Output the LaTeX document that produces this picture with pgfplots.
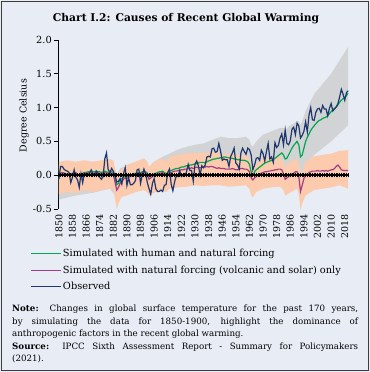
\documentclass[border=0pt]{standalone}
\usepackage{pgfplots}
\pgfplotsset{compat=1.18}
\usepackage{fontspec}
\setmainfont{DejaVu Serif}
\definecolor{bgc}{RGB}{232,237,245}
\definecolor{framec}{RGB}{60,60,60}
\definecolor{simgreen}{RGB}{0,166,81}
\definecolor{natmag}{RGB}{163,62,132}
\definecolor{obsnavy}{RGB}{30,55,110}
\definecolor{bandgray}{RGB}{210,211,213}
\definecolor{bandpeach}{RGB}{252,202,172}

\pgfplotstableread{
year obs
1850 -0.06
1851 0.13
1852 0.13
1853 0.09
1854 0.07
1855 0.06
1856 0.04
1857 -0.11
1858 -0.03
1859 0.08
1860 -0.03
1861 -0.07
1862 -0.18
1863 0.02
1864 -0.11
1865 0.03
1866 0.02
1867 0.00
1868 0.03
1869 0.08
1870 0.03
1871 -0.01
1872 0.06
1873 0.03
1874 -0.03
1875 -0.06
1876 -0.02
1877 0.24
1878 0.33
1879 0.08
1880 0.04
1881 0.10
1882 0.06
1883 0.00
1884 -0.10
1885 -0.09
1886 -0.05
1887 -0.13
1888 0.02
1889 0.11
1890 -0.15
1891 -0.04
1892 -0.14
1893 -0.14
1894 -0.12
1895 -0.08
1896 0.08
1897 0.09
1898 -0.12
1899 0.00
1900 0.09
1901 0.02
1902 -0.11
1903 -0.20
1904 -0.28
1905 -0.12
1906 -0.05
1907 -0.20
1908 -0.24
1909 -0.24
1910 -0.22
1911 -0.24
1912 -0.15
1913 -0.14
1914 0.04
1915 0.09
1916 -0.13
1917 -0.23
1918 -0.10
1919 -0.01
1920 -0.02
1921 0.07
1922 -0.02
1923 0.00
1924 -0.01
1925 0.05
1926 0.16
1927 0.07
1928 0.07
1929 -0.09
1930 0.16
1931 0.21
1932 0.14
1933 0.00
1934 0.14
1935 0.11
1936 0.15
1937 0.27
1938 0.28
1939 0.27
1940 0.39
1941 0.40
1942 0.34
1943 0.35
1944 0.47
1945 0.36
1946 0.22
1947 0.24
1948 0.23
1949 0.23
1950 0.13
1951 0.28
1952 0.33
1953 0.40
1954 0.18
1955 0.15
1956 0.09
1957 0.33
1958 0.40
1959 0.35
1960 0.31
1961 0.40
1962 0.38
1963 0.30
1964 0.08
1965 0.15
1966 0.25
1967 0.26
1968 0.22
1969 0.37
1970 0.32
1971 0.21
1972 0.35
1973 0.47
1974 0.24
1975 0.27
1976 0.19
1977 0.48
1978 0.41
1979 0.44
1980 0.55
1981 0.61
1982 0.45
1983 0.67
1984 0.47
1985 0.45
1986 0.51
1987 0.68
1988 0.71
1989 0.60
1990 0.77
1991 0.73
1992 0.55
1993 0.59
1994 0.65
1995 0.79
1996 0.64
1997 0.89
1998 1.00
1999 0.82
2000 0.81
2001 0.93
2002 0.98
2003 0.99
2004 0.93
2005 1.03
2006 0.98
2007 0.98
2008 0.88
2009 0.99
2010 1.06
2011 0.95
2012 0.98
2013 1.01
2014 1.06
2015 1.16
2016 1.27
2017 1.20
2018 1.11
2019 1.22
2020 1.25
}\obsdata

\pgfplotstableread{
year hum nat
1850 -0.03 0.02
1851 0.00 0.03
1852 0.02 0.04
1853 0.03 0.03
1854 0.02 0.02
1855 0.01 0.01
1856 0.00 0.02
1857 0.02 0.00
1858 0.03 0.01
1859 0.04 0.03
1860 0.03 0.04
1861 0.01 0.01
1862 0.00 -0.01
1863 0.02 0.01
1864 0.03 0.02
1865 0.04 0.03
1866 0.04 0.02
1867 0.05 0.03
1868 0.05 0.04
1869 0.04 0.03
1870 0.05 0.02
1871 0.05 0.03
1872 0.06 0.04
1873 0.05 0.03
1874 0.05 0.03
1875 0.04 0.02
1876 0.05 0.03
1877 0.06 0.04
1878 0.05 0.03
1879 0.04 0.02
1880 0.04 0.02
1881 0.05 0.03
1882 0.04 0.02
1883 -0.06 -0.10
1884 -0.14 -0.22
1885 -0.12 -0.18
1886 -0.07 -0.12
1887 -0.05 -0.09
1888 -0.03 -0.06
1889 -0.01 -0.04
1890 -0.02 -0.05
1891 -0.01 -0.03
1892 0.00 -0.02
1893 0.01 -0.01
1894 0.02 0.00
1895 0.03 0.01
1896 0.03 0.02
1897 0.04 0.02
1898 0.04 0.03
1899 0.05 0.03
1900 0.05 0.04
1901 0.05 0.03
1902 0.03 0.00
1903 -0.02 -0.06
1904 -0.01 -0.04
1905 0.00 -0.02
1906 0.02 0.00
1907 0.03 0.01
1908 0.04 0.02
1909 0.05 0.03
1910 0.05 0.03
1911 0.06 0.04
1912 0.04 0.02
1913 0.02 -0.01
1914 0.04 0.01
1915 0.06 0.03
1916 0.07 0.04
1917 0.08 0.05
1918 0.09 0.06
1919 0.10 0.06
1920 0.10 0.07
1921 0.11 0.07
1922 0.12 0.08
1923 0.12 0.08
1924 0.13 0.09
1925 0.14 0.09
1926 0.14 0.10
1927 0.15 0.10
1928 0.15 0.11
1929 0.16 0.10
1930 0.17 0.11
1931 0.17 0.12
1932 0.18 0.11
1933 0.19 0.11
1934 0.19 0.12
1935 0.19 0.12
1936 0.18 0.12
1937 0.20 0.13
1938 0.21 0.12
1939 0.22 0.13
1940 0.23 0.13
1941 0.24 0.12
1942 0.24 0.11
1943 0.25 0.10
1944 0.25 0.11
1945 0.26 0.10
1946 0.26 0.10
1947 0.27 0.10
1948 0.27 0.09
1949 0.26 0.09
1950 0.26 0.09
1951 0.25 0.09
1952 0.25 0.10
1953 0.24 0.09
1954 0.24 0.08
1955 0.23 0.08
1956 0.23 0.09
1957 0.22 0.10
1958 0.22 0.10
1959 0.22 0.09
1960 0.21 0.09
1961 0.20 0.08
1962 0.16 0.05
1963 0.05 -0.04
1964 0.00 -0.07
1965 0.05 -0.04
1966 0.08 -0.02
1967 0.10 0.00
1968 0.12 0.02
1969 0.14 0.03
1970 0.16 0.04
1971 0.18 0.05
1972 0.19 0.05
1973 0.20 0.06
1974 0.21 0.06
1975 0.22 0.07
1976 0.23 0.07
1977 0.25 0.08
1978 0.27 0.08
1979 0.29 0.09
1980 0.31 0.09
1981 0.33 0.08
1982 0.30 0.02
1983 0.24 -0.06
1984 0.25 -0.04
1985 0.30 -0.02
1986 0.35 0.00
1987 0.40 0.02
1988 0.44 0.03
1989 0.47 0.05
1990 0.50 0.05
1991 0.45 -0.02
1992 0.27 -0.24
1993 0.30 -0.15
1994 0.40 -0.05
1995 0.50 0.00
1996 0.56 0.02
1997 0.61 0.04
1998 0.66 0.05
1999 0.70 0.06
2000 0.73 0.06
2001 0.76 0.06
2002 0.79 0.07
2003 0.81 0.06
2004 0.82 0.06
2005 0.84 0.07
2006 0.85 0.06
2007 0.86 0.07
2008 0.88 0.06
2009 0.91 0.07
2010 0.94 0.08
2011 0.97 0.08
2012 0.99 0.10
2013 1.01 0.13
2014 1.04 0.15
2015 1.08 0.12
2016 1.11 0.08
2017 1.13 0.07
2018 1.15 0.07
2019 1.18 0.07
2020 1.21 0.07
}\simdata

% gray band polygon: upper edge forward, lower edge backward
\pgfplotstableread{
x y
1850 0.15
1860 0.17
1870 0.18
1880 0.20
1883 0.10
1884 0.00
1886 0.10
1890 0.15
1900 0.22
1903 0.12
1906 0.20
1910 0.26
1920 0.38
1925 0.42
1930 0.45
1935 0.47
1940 0.52
1945 0.57
1950 0.55
1955 0.55
1960 0.57
1962 0.52
1963 0.45
1964 0.42
1966 0.50
1970 0.60
1975 0.65
1980 0.70
1982 0.70
1983 0.66
1985 0.72
1990 0.80
1991 0.80
1992 0.75
1993 0.80
1995 0.95
2000 1.20
2005 1.35
2010 1.50
2015 1.70
2020 1.90
2020 0.74
2015 0.62
2010 0.50
2005 0.40
2000 0.30
1995 0.15
1993 0.05
1992 -0.05
1991 0.15
1990 0.22
1985 0.10
1983 0.03
1982 0.10
1980 0.12
1975 0.07
1970 0.00
1966 -0.12
1964 -0.22
1963 -0.20
1962 -0.05
1960 0.00
1955 0.00
1950 0.02
1945 0.02
1940 0.00
1935 -0.03
1930 -0.05
1925 -0.07
1920 -0.10
1910 -0.18
1906 -0.22
1903 -0.28
1900 -0.20
1890 -0.22
1886 -0.30
1884 -0.40
1883 -0.30
1880 -0.20
1870 -0.26
1860 -0.30
1850 -0.36
}\graypoly

\pgfplotstableread{
x y
1850 0.20
1855 0.22
1860 0.20
1865 0.22
1870 0.20
1875 0.22
1880 0.24
1882 0.22
1883 0.10
1884 0.00
1885 0.02
1887 0.08
1890 0.15
1895 0.20
1900 0.25
1902 0.20
1903 0.12
1905 0.18
1910 0.25
1913 0.20
1915 0.27
1920 0.30
1925 0.32
1930 0.33
1935 0.33
1940 0.34
1945 0.32
1950 0.32
1955 0.30
1960 0.30
1962 0.25
1963 0.12
1964 0.10
1966 0.18
1970 0.25
1975 0.27
1980 0.28
1982 0.20
1983 0.12
1985 0.18
1990 0.25
1991 0.18
1992 -0.02
1993 0.05
1995 0.20
2000 0.28
2005 0.30
2010 0.32
2015 0.36
2020 0.37
2020 -0.20
2015 -0.15
2010 -0.18
2005 -0.20
2000 -0.22
1995 -0.30
1993 -0.42
1992 -0.52
1991 -0.28
1990 -0.20
1985 -0.27
1983 -0.30
1982 -0.22
1980 -0.17
1975 -0.18
1970 -0.20
1966 -0.25
1964 -0.33
1963 -0.30
1962 -0.20
1960 -0.15
1955 -0.16
1950 -0.17
1945 -0.15
1940 -0.15
1935 -0.16
1930 -0.15
1925 -0.17
1920 -0.18
1915 -0.20
1913 -0.25
1910 -0.22
1905 -0.27
1903 -0.30
1902 -0.25
1900 -0.22
1895 -0.25
1890 -0.30
1887 -0.32
1885 -0.42
1884 -0.50
1883 -0.35
1882 -0.20
1880 -0.20
1875 -0.22
1870 -0.25
1865 -0.22
1860 -0.27
1855 -0.25
1850 -0.28
}\peachpoly

\begin{document}
\begin{tikzpicture}
\useasboundingbox (0bp,0bp) rectangle (370bp,-372bp);
\fill[bgc] (0bp,0bp) rectangle (370bp,-372bp);
\draw[framec, line width=1.5bp] (1.5bp,-1.5bp) rectangle (368.5bp,-370.5bp);
\node[font=\bfseries\fontsize{10.7bp}{12bp}\selectfont] at (186bp,-19bp) {Chart I.2: Causes of Recent Global Warming};

\begin{axis}[
  at={(58bp,-209bp)}, anchor=south west,
  width=291bp, height=169bp, scale only axis,
  xmin=1849.5, xmax=2020.5, ymin=-0.5, ymax=2.0,
  axis y line*=left, axis x line*=bottom,
  x axis line style={draw=none},
  xtick={1850,1858,...,2018},
  xtick style={draw=none},
  xticklabel style={rotate=90, anchor=east, font=\fontsize{9.5bp}{10bp}\selectfont, /pgf/number format/1000 sep={}, inner sep=1.5bp},
  ytick={-0.5,0,0.5,1,1.5,2},
  yticklabel style={font=\fontsize{9.8bp}{10bp}\selectfont, /pgf/number format/fixed, /pgf/number format/fixed zerofill, /pgf/number format/precision=1, inner sep=2bp},
  /pgf/number format/assume math mode=true,
  y axis line style={black, line width=0.8bp},
  ytick style={black, line width=0.8bp},
  tick align=outside, major tick length=4bp,
  ylabel={Degree Celsius},
  ylabel style={at={(axis description cs:-0.117,0.553)}, anchor=center, font=\fontsize{9.5bp}{10bp}\selectfont},
  legend style={at={(axis description cs:-0.096,-0.228)}, anchor=north west, draw=none, fill=none,
    font=\fontsize{9.8bp}{10bp}\selectfont, row sep=4.5bp, inner sep=0pt,
    nodes={inner sep=1.5bp}},
  legend cell align=left,
  legend image code/.code={\draw[#1] (0bp,0bp) -- (30bp,0bp);},
]
\addplot[fill=bandgray, draw=none, forget plot] table[x=x,y=y] {\graypoly} -- cycle;
\addplot[fill=bandpeach, draw=none, forget plot] table[x=x,y=y] {\peachpoly} -- cycle;
\addplot[simgreen, line width=1.2bp] table[x=year,y=hum] {\simdata};
\addplot[natmag, line width=1.2bp] table[x=year,y=nat] {\simdata};
\addplot[obsnavy, line width=1.2bp] table[x=year,y=obs] {\obsdata};
\legend{Simulated with human and natural forcing,
  Simulated with natural forcing (volcanic and solar) only,
  Observed}
\end{axis}

\begin{axis}[
  at={(58bp,-209bp)}, anchor=south west,
  width=291bp, height=169bp, scale only axis,
  xmin=1849.5, xmax=2020.5, ymin=-0.5, ymax=2.0,
  axis y line=none, axis x line*=middle,
  ytick=\empty,
  x axis line style={black, line width=1.5bp},
  xtick={1850,1851,...,2020}, xticklabels={},
  xtick style={black, line width=0.9bp},
  tick align=center, major tick length=4.5bp,
]
\addplot[draw=none] coordinates {(1850,0) (2020,0)};
\end{axis}

\node[anchor=north west, text width=346bp, align=justify, inner sep=0pt,
  font=\fontsize{8.7bp}{12.5bp}\selectfont] at (12bp,-305bp)
  {\textbf{Note:} Changes in global surface temperature for the past 170 years,\linebreak by simulating the data for 1850-1900, highlight the dominance of\linebreak anthropogenic factors in the recent global warming.\par
  \textbf{Source:} IPCC Sixth Assessment Report - Summary for Policymakers\linebreak (2021).};
\end{tikzpicture}
\end{document}
